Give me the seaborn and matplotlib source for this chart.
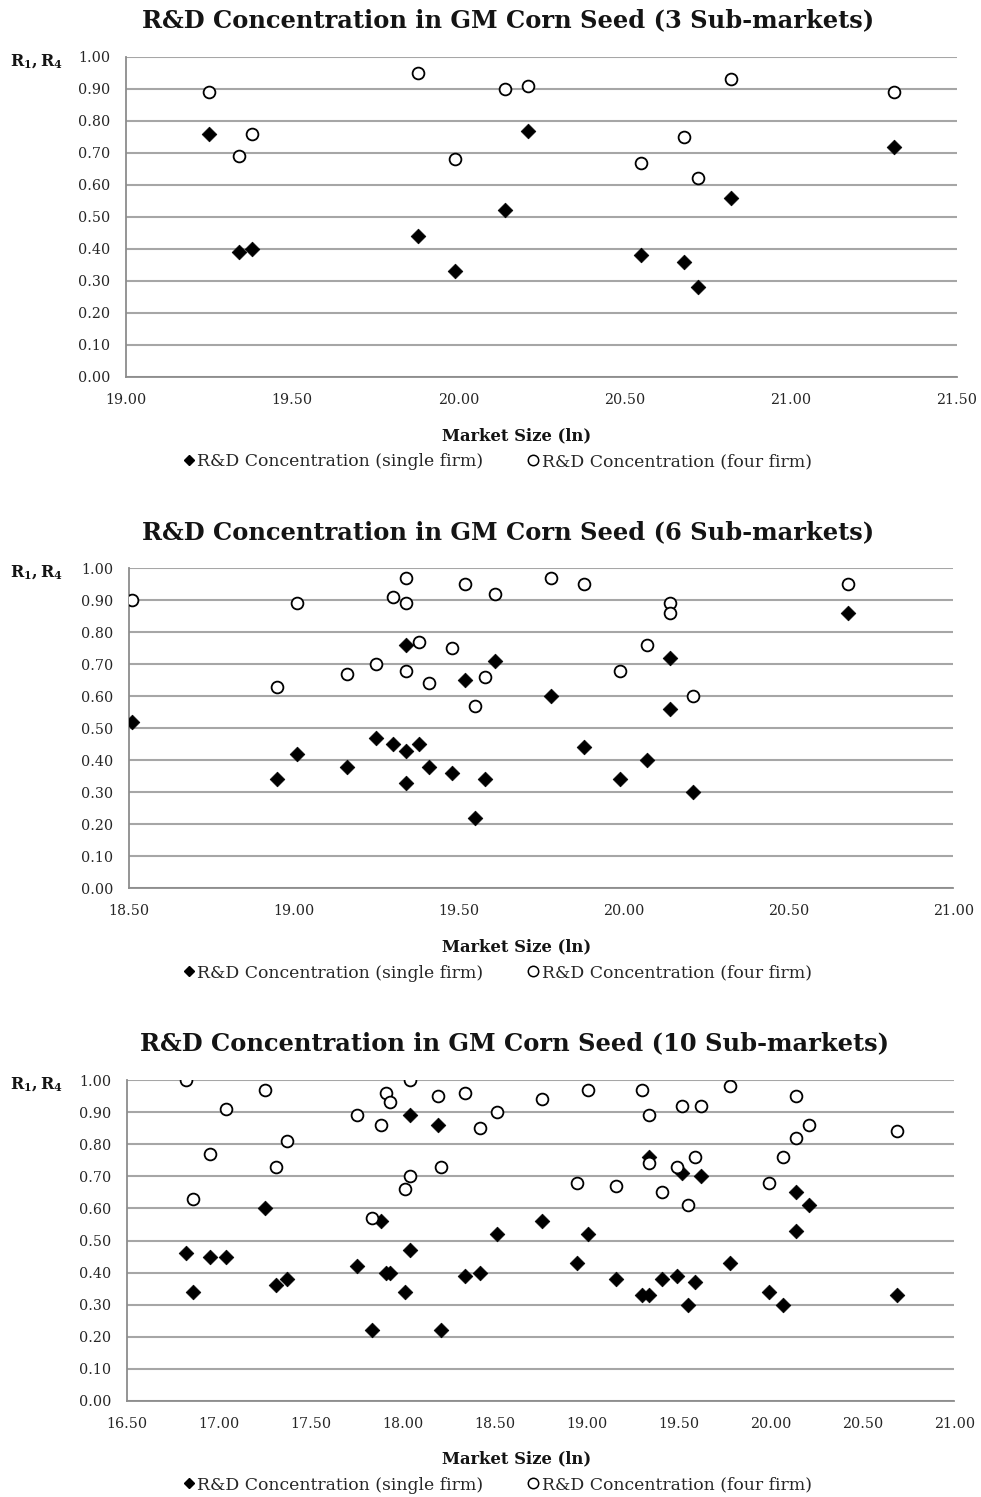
import matplotlib
matplotlib.use("Agg")
import matplotlib.pyplot as plt
from matplotlib.lines import Line2D
from matplotlib.ticker import MultipleLocator, FormatStrFormatter
import seaborn as sns
import pandas as pd

# ---- 3 sub-markets ----
size_3 = [19.25, 19.34, 19.38, 19.88, 19.99, 20.14, 20.21, 20.55, 20.68, 20.72, 20.82, 21.31]
r1_3 = [0.76, 0.39, 0.40, 0.44, 0.33, 0.52, 0.77, 0.38, 0.36, 0.28, 0.56, 0.72]
r4_3 = [0.89, 0.69, 0.76, 0.95, 0.68, 0.90, 0.91, 0.67, 0.75, 0.62, 0.93, 0.89]

# ---- 6 sub-markets ----
size_6 = [18.51, 18.95, 19.01, 19.16, 19.25, 19.30, 19.34, 19.34, 19.34, 19.38, 19.41, 19.48,
          19.52, 19.55, 19.58, 19.61, 19.78, 19.88, 19.99, 20.07, 20.14, 20.14, 20.21, 20.68]
r1_6 = [0.52, 0.34, 0.42, 0.38, 0.47, 0.45, 0.76, 0.43, 0.33, 0.45, 0.38, 0.36,
        0.65, 0.22, 0.34, 0.71, 0.60, 0.44, 0.34, 0.40, 0.72, 0.56, 0.30, 0.86]
r4_6 = [0.90, 0.63, 0.89, 0.67, 0.70, 0.91, 0.97, 0.89, 0.68, 0.77, 0.64, 0.75,
        0.95, 0.57, 0.66, 0.92, 0.97, 0.95, 0.68, 0.76, 0.89, 0.86, 0.60, 0.95]

# ---- 10 sub-markets ----
size_10 = [16.82, 16.86, 16.95, 17.04, 17.25, 17.31, 17.37, 17.75, 17.83, 17.88,
           17.91, 17.93, 18.01, 18.04, 18.04, 18.19, 18.21, 18.34, 18.42, 18.51,
           18.76, 18.95, 19.01, 19.16, 19.30, 19.34, 19.34, 19.41, 19.49, 19.52,
           19.55, 19.59, 19.62, 19.78, 19.99, 20.07, 20.14, 20.14, 20.21, 20.69]
r1_10 = [0.46, 0.34, 0.45, 0.45, 0.60, 0.36, 0.38, 0.42, 0.22, 0.56,
         0.40, 0.40, 0.34, 0.89, 0.47, 0.86, 0.22, 0.39, 0.40, 0.52,
         0.56, 0.43, 0.52, 0.38, 0.33, 0.76, 0.33, 0.38, 0.39, 0.71,
         0.30, 0.37, 0.70, 0.43, 0.34, 0.30, 0.65, 0.53, 0.61, 0.33]
r4_10 = [1.00, 0.63, 0.77, 0.91, 0.97, 0.73, 0.81, 0.89, 0.57, 0.86,
         0.96, 0.93, 0.66, 1.00, 0.70, 0.95, 0.73, 0.96, 0.85, 0.90,
         0.94, 0.68, 0.97, 0.67, 0.97, 0.89, 0.74, 0.65, 0.73, 0.92,
         0.61, 0.76, 0.92, 0.98, 0.68, 0.76, 0.95, 0.82, 0.86, 0.84]

titles = ["R&D Concentration in GM Corn Seed (3 Sub-markets)",
          "R&D Concentration in GM Corn Seed (6 Sub-markets)",
          "R&D Concentration in GM Corn Seed (10 Sub-markets)"]
x_limits = [(19.0, 21.5), (18.5, 21.0), (16.5, 21.0)]
x_label = "Market Size (ln)"
y_label = r"$\mathbf{R_1,R_4}$"
legend_labels = ["R&D Concentration (single firm)", "R&D Concentration (four firm)"]

sns.set_theme(style="white")
plt.rcParams["font.family"] = ["DejaVu Serif"]
plt.rcParams["mathtext.fontset"] = "dejavuserif"

W, H = 981, 1497
fig = plt.figure(figsize=(W / 100, H / 100), dpi=100)

# axes boxes in pixels: left, top, right, bottom
boxes = [(126, 57, 956.7, 376.7), (129, 568.3, 953.3, 888.3), (127, 1080, 954.3, 1401)]
title_x = [508, 508, 514]
title_y = [20, 532, 1043]
xlabel_y = [436, 947, 1459]
legend_y = [462, 973, 1485]
ylab_y = [62, 573, 1085]

panels = [(size_3, r1_3, r4_3), (size_6, r1_6, r4_6), (size_10, r1_10, r4_10)]
grid_col = "#a6a6a6"
spine_col = "#8c8c8c"
text_col = "#262626"

for i, (sz, r1, r4) in enumerate(panels):
    l, t, r, b = boxes[i]
    ax = fig.add_axes([l / W, 1 - b / H, (r - l) / W, (b - t) / H])
    df = pd.DataFrame({"size": sz, "r1": r1, "r4": r4})

    sns.scatterplot(data=df, x="size", y="r1", marker="D", color="black",
                    s=56, edgecolor="black", linewidth=0.5, ax=ax, zorder=3)
    sns.scatterplot(data=df, x="size", y="r4", marker="o", facecolor="white",
                    edgecolor="black", linewidth=1.3, s=72, ax=ax, zorder=3)

    ax.set_xlim(*x_limits[i])
    ax.set_ylim(0, 1.0)
    ax.xaxis.set_major_locator(MultipleLocator(0.5))
    ax.xaxis.set_minor_locator(MultipleLocator(0.1))
    ax.yaxis.set_major_locator(MultipleLocator(0.1))
    ax.yaxis.set_minor_locator(MultipleLocator(0.02))
    ax.xaxis.set_major_formatter(FormatStrFormatter("%.2f"))
    ax.yaxis.set_major_formatter(FormatStrFormatter("%.2f"))

    ax.grid(axis="y", which="major", color=grid_col, linewidth=1.5, zorder=0)
    ax.grid(axis="x", visible=False)
    ax.set_axisbelow(True)
    for side in ["top", "right"]:
        ax.spines[side].set_visible(False)
    for side in ["left", "bottom"]:
        ax.spines[side].set_color(spine_col)
        ax.spines[side].set_linewidth(1.3)

    ax.tick_params(axis="both", which="major", direction="inout", length=7,
                   width=1.0, color=spine_col, labelsize=10.3, labelcolor=text_col)
    ax.tick_params(axis="both", which="minor", direction="out", length=3.5,
                   width=0.8, color=spine_col)
    ax.tick_params(axis="y", which="major", pad=8)
    ax.tick_params(axis="x", which="major", pad=8)
    ax.set_xlabel("")
    ax.set_ylabel("")

    fig.text(title_x[i] / W, 1 - title_y[i] / H, titles[i], ha="center", va="center",
             fontsize=17.4, fontweight="bold", color="#141414")
    fig.text(517 / W, 1 - xlabel_y[i] / H, x_label, ha="center", va="center",
             fontsize=11.8, fontweight="bold", color="#141414")
    fig.text(10 / W, 1 - ylab_y[i] / H, y_label, ha="left", va="center",
             fontsize=11.5, color="#141414")

    handles = [
        Line2D([], [], marker="D", linestyle="none", color="black", markersize=5.5),
        Line2D([], [], marker="o", linestyle="none", markerfacecolor="white",
               markeredgecolor="black", markeredgewidth=1.1, markersize=7.5),
    ]
    fig.legend(handles, legend_labels, loc="center", ncol=2, frameon=False,
               bbox_to_anchor=(497 / W, 1 - legend_y[i] / H),
               prop={"size": 12.4}, handletextpad=0.1, handlelength=0.8,
               columnspacing=2.5, labelcolor=text_col)

fig.savefig("out.png", dpi=100, facecolor="white")
